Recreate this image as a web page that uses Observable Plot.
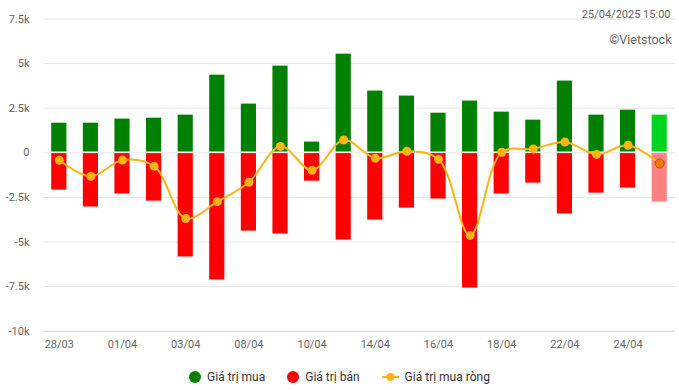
<!DOCTYPE html>
<html><head><meta charset="utf-8">
<script src="https://cdn.jsdelivr.net/npm/d3@7"></script>
<script src="https://cdn.jsdelivr.net/npm/@observablehq/plot@0.6"></script>
<style>
body{margin:0;background:#fff;font-family:Roboto,sans-serif;}
#chart{width:679px;height:358px;}
#legend{display:flex;justify-content:center;align-items:center;height:26px;padding-top:6px;font-size:12px;color:#333;font-family:Roboto,sans-serif;}
.item{display:inline-flex;align-items:center;margin:0 11px;}
.item svg{margin-right:6px;}
</style></head><body>
<div id="chart"></div>
<div id="legend"></div>
<script>
const dates = ["28/03","31/03","01/04","02/04","03/04","04/04","08/04","09/04","10/04","11/04","14/04","15/04","16/04","17/04","18/04","21/04","22/04","23/04","24/04","25/04"];
const buy  = [1.66,1.66,1.89,1.94,2.11,4.35,2.73,4.86,0.60,5.53,3.46,3.18,2.22,2.90,2.28,1.83,4.02,2.11,2.39,2.11];
const sell = [-2.09,-3.04,-2.31,-2.71,-5.84,-7.13,-4.39,-4.55,-1.59,-4.89,-3.77,-3.10,-2.59,-7.58,-2.31,-1.70,-3.43,-2.26,-1.98,-2.76];
const net  = [-0.42,-1.32,-0.41,-0.75,-3.68,-2.74,-1.65,0.36,-0.98,0.72,-0.30,0.09,-0.36,-4.63,0.03,0.22,0.60,-0.09,0.42,-0.60];
const xTicks = ["28/03","01/04","03/04","08/04","10/04","14/04","16/04","18/04","22/04","24/04"];
const yTicks = [-10,-7.5,-5,-2.5,0,2.5,5,7.5];
const stamp = "25/04/2025 15:00";
const credit = "©Vietstock";
const seriesNames = ["Giá trị mua","Giá trị bán","Giá trị mua ròng"];

const rows = dates.map((d,i)=>({date:d,buy:buy[i],sell:sell[i],net:net[i],last:i===dates.length-1}));
const lineColor = "#fdb414";

const chart = Plot.plot({
  width:679, height:358,
  marginLeft:43, marginRight:4, marginTop:18.5, marginBottom:27.3,
  style:{fontSize:"11px", fontFamily:"Roboto, sans-serif", color:"#666", background:"#fff"},
  color:{type:"identity"},
  x:{domain:dates, paddingInner:0.52, paddingOuter:0.26, align:0.5, round:false, ticks:xTicks, tickSize:0, tickPadding:9, label:null},
  y:{domain:[-10,7.5], ticks:yTicks, tickSize:0, tickPadding:14, label:null,
     tickFormat:d=> d===0 ? "0" : `${d}k`},
  marks:[
    Plot.ruleY(yTicks.filter(t=>t>-10), {stroke:"#e6e6e6", strokeWidth:1}),
    Plot.ruleY([-10], {stroke:"#ccd6eb", strokeWidth:1}),
    Plot.barY(rows, {x:"date", y1:0, y2:"buy", fill:d=>d.last?"#00d41f":"#008000", insetBottom:0.8}),
    Plot.barY(rows, {x:"date", y1:0, y2:"sell", fill:d=>d.last?"#ff8080":"#ff0000", insetTop:0.8}),
    Plot.line(rows, {x:"date", y:"net", stroke:lineColor, strokeWidth:2, curve:"catmull-rom"}),
    Plot.dot(rows.filter(d=>!d.last), {x:"date", y:"net", r:4.5, fill:lineColor}),
    Plot.dot(rows.filter(d=>d.last), {x:"date", y:"net", r:4.5, fill:"#ff7400", stroke:"#9a5a2a", strokeWidth:1}),
    Plot.text([stamp], {text:d=>d, frameAnchor:"top-right", dx:-5, dy:-8.5, fontSize:11, fill:"#666"}),
    Plot.text([credit], {text:d=>d, frameAnchor:"top-right", dx:-4, dy:15.8, fontSize:12.5, fill:"#666"})
  ]
});
document.getElementById("chart").appendChild(chart);

const legend = document.getElementById("legend");
const marks = [
  `<svg width="12" height="12"><circle cx="6" cy="6" r="6" fill="#008000"/></svg>`,
  `<svg width="12" height="12"><circle cx="6" cy="6" r="6" fill="#ff0000"/></svg>`,
  `<svg width="17" height="12"><line x1="0" x2="17" y1="6" y2="6" stroke="${lineColor}" stroke-width="2"/><circle cx="8.5" cy="6" r="4" fill="${lineColor}"/></svg>`
];
seriesNames.forEach((n,i)=>{
  const s = document.createElement("span");
  s.className = "item";
  s.innerHTML = marks[i] + `<span>${n}</span>`;
  legend.appendChild(s);
});
</script>
</body></html>
